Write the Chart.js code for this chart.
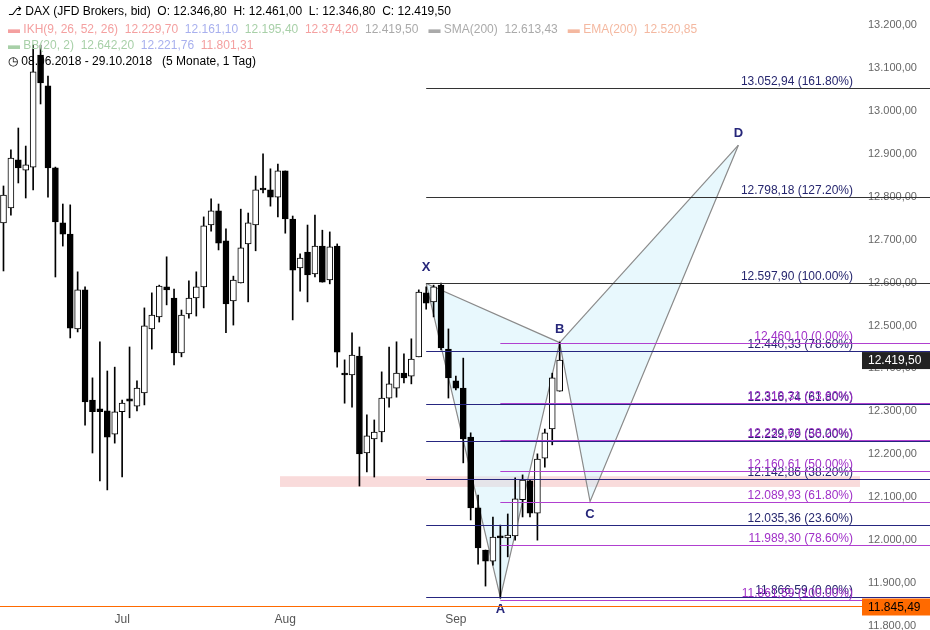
<!DOCTYPE html>
<html><head><meta charset="utf-8">
<script src="https://cdn.jsdelivr.net/npm/chart.js@4/dist/chart.umd.min.js"></script>
<style>
body{margin:0;background:#fff;font-family:"Liberation Sans",Arial,sans-serif}
#wrap{position:relative;width:930px;height:630px}
.h{position:absolute;left:8px;font-size:12px;white-space:nowrap}
</style></head><body>
<div id="wrap"><canvas id="c" width="930" height="630"></canvas>
<div class="h" style="top:4px;color:#000">&#9095; DAX (JFD Brokers, bid)&nbsp; O: 12.346,80&nbsp; H: 12.461,00&nbsp; L: 12.346,80&nbsp; C: 12.419,50</div>
<div class="h" style="top:22px"><span style="color:#f4a0a0">&#9644; IKH(9, 26, 52, 26)&nbsp; 12.229,70</span>&nbsp; <span style="color:#a8b0ee">12.161,10</span>&nbsp; <span style="color:#a8d0a8">12.195,40</span>&nbsp; <span style="color:#f4a0a0">12.374,20</span>&nbsp; <span style="color:#aaa">12.419,50</span>&nbsp;&nbsp; <span style="color:#aaa">&#9644; SMA(200)&nbsp; 12.613,43</span>&nbsp;&nbsp; <span style="color:#f4b8a0">&#9644; EMA(200)&nbsp; 12.520,85</span></div>
<div class="h" style="top:38px"><span style="color:#a8d0a8">&#9644; BB(20, 2)&nbsp; 12.642,20</span>&nbsp; <span style="color:#a8b0ee">12.221,76</span>&nbsp; <span style="color:#f4a0a0">11.801,31</span></div>
<div class="h" style="top:54px;color:#000">&#9719; 08.06.2018 - 29.10.2018&nbsp;&nbsp; (5 Monate, 1 Tag)</div>
</div>
<script>
const yPix=[[195,223,186,271,1],[158,208,150,215,1],[160,168,128,183,0],[165,170,146,198,1],[72,167,45,190,1],[55,83,45,104,0],[86,168,76,197,0],[168,222,167,277,0],[223,234,204,246,0],[234,328,205,338,0],[290,329,272,332,1],[290,402,287,425,0],[400,412,378,453,0],[409,412,342,481,0],[411,437,371,490,0],[412,434,367,443,1],[403,412,400,477,1],[399,401,347,418,0],[388,406,381,411,1],[326,393,308,405,1],[315,329,293,349,1],[286,317,285,322,1],[287,290,257,305,0],[298,353,289,365,0],[315,353,310,357,1],[298,314,281,318,1],[287,298,272,316,1],[226,287,217,308,1],[211,225,199,231,1],[211,243,204,250,0],[241,304,229,333,0],[280,301,276,325,1],[248,283,209,283,1],[223,244,213,302,1],[190,225,176,251,1],[188,190,154,193,0],[190,197,169,206,0],[171,197,164,217,1],[171,219,171,233,0],[219,270,216,320,0],[258,268,254,291,1],[252,275,225,302,0],[246,274,215,277,1],[246,282,230,282,0],[247,280,232,284,1],[246,352,244,367,0],[373,375,360,403,0],[355,375,333,407,1],[356,454,347,486,0],[436,453,415,472,1],[432,439,420,477,1],[398,432,372,442,1],[384,398,347,407,1],[373,388,342,397,1],[373,378,354,383,0],[359,376,339,384,1],[292,357,290,357,1],[293,303,287,309,0],[287,302,285,317,1],[285,348,283,350,0],[349,378,329,398,0],[381,388,376,390,0],[388,439,358,463,0],[437,508,433,520,0],[508,548,495,564,0],[550,561,550,586,0],[537,561,517,565,1],[536,538,525,598,0],[535,538,514,557,1],[499,536,478,540,1],[480,500,475,517,1],[481,513,480,517,0],[459,513,454,540,1],[433,458,429,467,1],[378,429,373,445,1]];
// price values converted from pixel reading of the reference (rounded)
const pv=p=>Math.round(13200-(p-25)*2.3294);
const opens=[],closes=[],highs=[],lows=[];
yPix.forEach(r=>{const top=pv(r[0]),bot=pv(r[1]);if(r[4]){opens.push(bot);closes.push(top);}else{opens.push(top);closes.push(bot);}highs.push(pv(r[2]));lows.push(pv(r[3]));});
opens.push(12346.8);closes.push(12419.5);highs.push(12461);lows.push(12346.8);
const monthLabels=[{i:16,t:'Jul'},{i:38,t:'Aug'},{i:61,t:'Sep'}];
const yTicks=[11800,11900,12000,12100,12200,12300,12400,12500,12600,12700,12800,12900,13000,13100,13200];
const patternIdx=[57,67,75,79.1,99.1];
const patternVal=[12597.9,11866.59,12460.1,12090,12920];
const patternNames=['X','A','B','C','D'];
const xFibVals=[13052.94,12798.18,12597.90,12440.33,12316.74,12229.79,12142.86,12035.36,11866.59];
const xFibPct=['161.80%','127.20%','100.00%','78.60%','61.80%','50.00%','38.20%','23.60%','0.00%'];
const bFibVals=[12460.10,12319.31,12232.63,12160.61,12089.93,11989.30,11861.59];
const bFibPct=['0.00%','23.60%','38.20%','50.00%','61.80%','78.60%','100.00%'];
const zone=[12124,12149];
const lastPrice=12419.50, lowLine=11845.49;
const fmt=v=>v.toLocaleString('de-DE',{minimumFractionDigits:2,maximumFractionDigits:2});

const wick=opens.map((o,i)=>({x:i,y:[lows[i],highs[i]]}));
const body=opens.map((o,i)=>({x:i,y:[Math.min(o,closes[i]),Math.max(o,closes[i])+0.01]}));
const up=opens.map((o,i)=>closes[i]>=o);

const deco={id:'deco',
beforeDatasetsDraw(ch){const c=ch.ctx,x=ch.scales.x,y=ch.scales.y,a=ch.chartArea;
 c.save();
 c.fillStyle='rgba(240,160,160,0.38)';
 c.fillRect(280,y.getPixelForValue(zone[1]),a.right-280,y.getPixelForValue(zone[0])-y.getPixelForValue(zone[1]));
 const P=patternIdx.map((v,i)=>[x.getPixelForValue(v),y.getPixelForValue(patternVal[i])]);
 c.fillStyle='rgba(205,240,250,0.45)';c.strokeStyle='#8a8a8a';c.lineWidth=1.2;
 [[0,1,2],[2,3,4]].forEach(t=>{c.beginPath();c.moveTo(...P[t[0]]);c.lineTo(...P[t[1]]);c.lineTo(...P[t[2]]);c.closePath();c.fill();});
 c.beginPath();c.moveTo(...P[0]);for(let k=1;k<5;k++)c.lineTo(...P[k]);c.stroke();
 c.beginPath();c.moveTo(...P[0]);c.lineTo(...P[2]);c.stroke();
 c.beginPath();c.moveTo(...P[2]);c.lineTo(...P[4]);c.stroke();
 c.restore();},
afterDatasetsDraw(ch){const c=ch.ctx,x=ch.scales.x,y=ch.scales.y,a=ch.chartArea;
 c.save();
 c.font='11px "Liberation Sans",Arial';c.fillStyle='#666';c.textAlign='left';c.textBaseline='middle';
 yTicks.forEach(v=>c.fillText(fmt(v),868,y.getPixelForValue(v)));
 c.font='12px "Liberation Sans",Arial';c.textAlign='right';c.textBaseline='alphabetic';
 const xs=x.getPixelForValue(patternIdx[0]),bs=x.getPixelForValue(patternIdx[1]);
 xFibVals.forEach((v,i)=>{const py=Math.round(y.getPixelForValue(v))+0.5;c.strokeStyle=i<3?'#333':'#262680';c.lineWidth=1;
  c.beginPath();c.moveTo(xs,py);c.lineTo(930,py);c.stroke();c.fillStyle='#26266e';c.fillText(fmt(v)+' ('+xFibPct[i]+')',853,py-4);});
 bFibVals.forEach((v,i)=>{const py=Math.round(y.getPixelForValue(v))+0.5;c.strokeStyle='#b040d0';
  c.beginPath();c.moveTo(bs,py);c.lineTo(930,py);c.stroke();c.fillStyle='#a030c8';c.fillText(fmt(v)+' ('+bFibPct[i]+')',853,py-4);});
 c.font='bold 13px "Liberation Sans",Arial';c.textAlign='center';c.fillStyle='#26267a';
 const off=[-12,16,-10,16,-8];
 patternNames.forEach((n,i)=>c.fillText(n,x.getPixelForValue(patternIdx[i]),y.getPixelForValue(patternVal[i])+off[i]));
 const oy=Math.round(y.getPixelForValue(lowLine))+0.5;c.strokeStyle='#ff6a00';c.beginPath();c.moveTo(0,oy);c.lineTo(930,oy);c.stroke();
 c.font='12px "Liberation Sans",Arial';c.textAlign='left';c.textBaseline='middle';
 c.fillStyle='#ff6a00';c.fillRect(862,oy-8,68,17);c.fillStyle='#000';c.fillText(fmt(lowLine),868,oy+1);
 const ly=y.getPixelForValue(lastPrice);c.fillStyle='#222';c.fillRect(862,ly-8,68,17);c.fillStyle='#fff';c.fillText(fmt(lastPrice),868,ly+1);
 c.fillStyle='#555';c.textAlign='center';monthLabels.forEach(m=>c.fillText(m.t,x.getPixelForValue(m.i),620));
 c.restore();}};

new Chart(document.getElementById('c'),{type:'bar',
data:{datasets:[
 {data:wick,backgroundColor:'#000',barThickness:1,grouped:false,order:2},
 {data:body,backgroundColor:up.map(u=>u?'#fff':'#000'),borderColor:'#000',borderWidth:1,borderSkipped:false,barThickness:6,grouped:false,order:1}]},
plugins:[deco],
options:{responsive:false,animation:false,events:[],
 layout:{padding:{left:0,right:70,top:0,bottom:0}},
 plugins:{legend:{display:false},tooltip:{enabled:false}},
 scales:{
  x:{type:'linear',min:-0.47,max:115.5,display:false,offset:false},
  y:{min:11790.7,max:13258.2,display:false}}}});
</script></body></html>
